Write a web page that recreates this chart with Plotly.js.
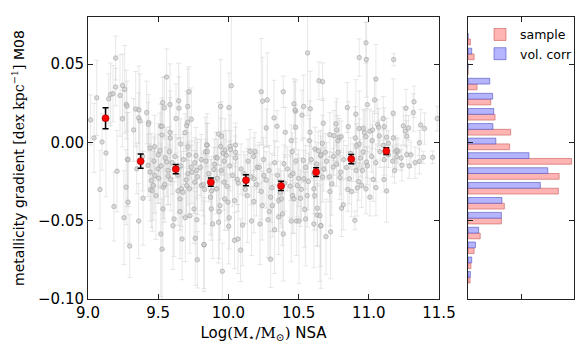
<!DOCTYPE html>
<html>
<head>
<meta charset="utf-8">
<script src="https://cdn.plot.ly/plotly-3.0.1.min.js"></script>
<style>
  body { margin: 0; background: white; }
  #gradPlot { width: 586px; height: 352px; }
</style>
</head>
<body>
<div id="gradPlot"></div>
<script>
// galaxies: [log mass, gradient, error]
var galaxiesLowTop = [
    [9.019, 0.0143, 0.016], [9.043, 0.0028, 0.022], [9.062, 0.0284, 0.024], [9.100, 0.0002, 0.018],
    [9.128, -0.0068, 0.028], [9.147, 0.0278, 0.016], [9.161, 0.0306, 0.020], [9.178, 0.0310, 0.018],
    [9.197, 0.0353, 0.012], [9.197, 0.0538, 0.014], [9.228, 0.0299, 0.026], [9.247, 0.0363, 0.020],
    [9.261, 0.0338, 0.028], [9.245, 0.0150, 0.018], [9.273, 0.0241, 0.022], [9.278, 0.0231, 0.016],
    [9.282, -0.0110, 0.030], [9.325, 0.0079, 0.020], [9.340, 0.0212, 0.024], [9.363, 0.0207, 0.028],
    [9.361, 0.0156, 0.016], [9.370, 0.0137, 0.030], [9.389, -0.0090, 0.022], [9.418, 0.0190, 0.020],
    [9.432, 0.0126, 0.018], [9.430, 0.0115, 0.014], [9.442, -0.0036, 0.016], [9.475, -0.0028, 0.020],
    [9.513, -0.0053, 0.024], [9.518, 0.0103, 0.014], [9.527, 0.0103, 0.018], [9.527, 0.0047, 0.020],
    [9.532, 0.0254, 0.016], [9.544, 0.0220, 0.020], [9.560, 0.0417, 0.018], [9.584, 0.0241, 0.026],
    [9.584, 0.0064, 0.022], [9.586, 0.0028, 0.030], [9.627, 0.0152, 0.022], [9.646, 0.0265, 0.024],
    [9.648, 0.0218, 0.020], [9.660, -0.0010, 0.016], [9.691, 0.0062, 0.012], [9.703, 0.0107, 0.022],
    [9.710, 0.0128, 0.018], [9.710, 0.0229, 0.024], [9.719, 0.0323, 0.016], [9.712, -0.0030, 0.014],
    [9.736, 0.0147, 0.020], [9.769, -0.0085, 0.018], [9.807, -0.0110, 0.016], [9.836, -0.0060, 0.022],
    [9.848, -0.0017, 0.020]
];

var galaxiesLowBottom = [
    [9.085, -0.0301, 0.025], [9.185, -0.0410, 0.022], [9.207, -0.0184, 0.026], [9.256, -0.0481, 0.030],
    [9.271, -0.0286, 0.024], [9.285, -0.0382, 0.026], [9.297, -0.0662, 0.020], [9.285, -0.0109, 0.030],
    [9.347, -0.0169, 0.016], [9.361, -0.0502, 0.024], [9.392, -0.0357, 0.030], [9.427, -0.0147, 0.020],
    [9.442, -0.0190, 0.018], [9.451, -0.0244, 0.030], [9.465, -0.0276, 0.022], [9.444, -0.0303, 0.020],
    [9.458, -0.0308, 0.026], [9.484, -0.0340, 0.028], [9.475, -0.0212, 0.024], [9.499, -0.0169, 0.022],
    [9.503, -0.0229, 0.016], [9.518, -0.0585, 0.040], [9.527, -0.0682, 0.032], [9.534, -0.0425, 0.026],
    [9.537, -0.0286, 0.020], [9.546, -0.0270, 0.024], [9.570, -0.0216, 0.018], [9.589, -0.0237, 0.020],
    [9.560, -0.0126, 0.022], [9.605, -0.0532, 0.028], [9.613, -0.0489, 0.024], [9.641, -0.0310, 0.022],
    [9.655, -0.0442, 0.030], [9.670, -0.0617, 0.026], [9.693, -0.0481, 0.028], [9.703, -0.0276, 0.020],
    [9.726, -0.0468, 0.024], [9.755, -0.0425, 0.022], [9.764, -0.0613, 0.030], [9.779, -0.0750, 0.018],
    [9.776, -0.0494, 0.026], [9.826, -0.0654, 0.028], [9.760, -0.0254, 0.020], [9.807, -0.0276, 0.016],
    [9.831, -0.0301, 0.022], [9.722, -0.0297, 0.018], [9.665, -0.0297, 0.024], [9.655, -0.0361, 0.020],
    [9.677, -0.0318, 0.016], [9.736, -0.0158, 0.014], [9.774, -0.0180, 0.018], [9.712, -0.0200, 0.020]
];

var galaxiesMidTop = [
    [9.845, -0.0017, 0.014], [9.850, -0.0060, 0.018], [9.911, -0.0096, 0.016], [9.930, 0.0053, 0.020],
    [9.945, 0.0229, 0.030], [9.952, 0.0040, 0.022], [9.945, -0.0026, 0.018], [9.964, -0.0070, 0.014],
    [9.976, -0.0049, 0.020], [9.985, -0.0083, 0.016], [10.004, 0.0222, 0.022], [10.021, 0.0361, 0.045],
    [10.011, -0.0026, 0.020], [10.016, -0.0045, 0.012], [10.051, -0.0017, 0.014], [10.051, -0.0064, 0.016],
    [10.154, -0.0058, 0.014], [10.189, -0.0058, 0.012], [10.234, 0.0323, 0.034], [10.244, 0.0263, 0.028],
    [10.277, 0.0271, 0.030], [10.270, 0.0092, 0.012], [10.325, 0.0156, 0.024], [10.346, 0.0103, 0.010],
    [10.391, 0.0323, 0.010], [10.405, 0.0064, 0.016], [10.467, 0.0246, 0.016], [10.479, 0.0199, 0.020],
    [10.474, 0.0207, 0.018], [10.479, 0.0096, 0.014], [10.448, 0.0011, 0.010], [10.455, -0.0060, 0.012],
    [10.524, 0.0173, 0.016], [10.536, 0.0229, 0.020], [10.564, 0.0571, 0.040], [10.583, 0.0214, 0.024],
    [10.581, 0.0064, 0.020], [10.576, 0.0011, 0.014], [10.645, 0.0393, 0.012], [10.671, 0.0387, 0.012],
    [10.676, 0.0122, 0.016], [10.669, -0.0006, 0.018], [10.617, -0.0043, 0.014], [10.640, -0.0053, 0.012],
    [10.657, -0.0085, 0.016]
];

var galaxiesHighTop = [
    [10.690, -0.0064, 0.012], [10.723, 0.0049, 0.014], [10.752, 0.0043, 0.016], [10.766, 0.0118, 0.014],
    [10.771, 0.0079, 0.020], [10.780, 0.0011, 0.016], [10.790, 0.0032, 0.012], [10.804, 0.0036, 0.010],
    [10.780, -0.0064, 0.014], [10.847, 0.0222, 0.016], [10.854, 0.0100, 0.016], [10.908, 0.0180, 0.022],
    [10.904, 0.0028, 0.020], [10.913, -0.0021, 0.014], [10.932, 0.0541, 0.012], [10.932, 0.0088, 0.024],
    [10.932, -0.0010, 0.016], [10.961, 0.0090, 0.012], [10.968, 0.0062, 0.014], [10.980, 0.0635, 0.013],
    [10.982, 0.0528, 0.024], [10.989, 0.0241, 0.030], [10.980, 0.0036, 0.018], [11.008, 0.0071, 0.014],
    [11.027, 0.0079, 0.012], [11.025, 0.0011, 0.010], [11.041, 0.0271, 0.014], [11.051, 0.0404, 0.022],
    [11.063, 0.0113, 0.016], [11.070, 0.0096, 0.012], [11.075, 0.0041, 0.010], [11.103, 0.0152, 0.014],
    [11.110, 0.0100, 0.012], [11.103, -0.0019, 0.010], [11.127, 0.0032, 0.012], [11.139, -0.0006, 0.008],
    [11.174, 0.0186, 0.022], [11.177, 0.0528, 0.004], [11.174, 0.0028, 0.014], [11.189, -0.0058, 0.010],
    [11.208, -0.0058, 0.008], [11.246, 0.0105, 0.012], [11.260, 0.0071, 0.010], [11.265, 0.0218, 0.012],
    [11.284, 0.0092, 0.008], [11.270, 0.0038, 0.010], [11.317, 0.0190, 0.012], [11.322, 0.0259, 0.010],
    [11.369, 0.0111, 0.010], [11.397, 0.0088, 0.010], [11.360, -0.0004, 0.008], [11.388, -0.0096, 0.004],
    [11.488, 0.0152, 0.008], [11.454, -0.0096, 0.004], [11.270, -0.0079, 0.006]
];

var galaxiesMidBottom = [
    [9.826, -0.0652, 0.030], [9.873, -0.0350, 0.024], [9.878, -0.0425, 0.020], [9.888, -0.0521, 0.022],
    [9.930, -0.0510, 0.026], [9.935, -0.0442, 0.030], [9.957, -0.0823, 0.018], [10.002, -0.0536, 0.024],
    [10.006, -0.0481, 0.020], [10.044, -0.0626, 0.018], [10.068, -0.0617, 0.022], [10.087, -0.0688, 0.020],
    [10.101, -0.0528, 0.026], [10.135, -0.0340, 0.030], [10.165, -0.0502, 0.022], [10.182, -0.0378, 0.020],
    [10.225, -0.0521, 0.026], [10.241, -0.0404, 0.022], [10.282, -0.0494, 0.024], [10.291, -0.0442, 0.030],
    [10.301, -0.0746, 0.018], [10.329, -0.0558, 0.028], [10.358, -0.0476, 0.024], [10.391, -0.0585, 0.030],
    [10.386, -0.0457, 0.020], [10.448, -0.0502, 0.026], [10.486, -0.0502, 0.022], [10.503, -0.0502, 0.040],
    [10.543, -0.0429, 0.024], [10.550, -0.0489, 0.030], [10.609, -0.0521, 0.028], [10.633, -0.0464, 0.020],
    [10.657, -0.0532, 0.026], [10.633, -0.0421, 0.024], [10.358, -0.0370, 0.020], [10.377, -0.0361, 0.018],
    [10.301, -0.0350, 0.022], [10.313, -0.0404, 0.020], [10.458, -0.0340, 0.024], [10.514, -0.0357, 0.018],
    [10.562, -0.0340, 0.020], [10.609, -0.0297, 0.016], [10.614, -0.0340, 0.022], [10.234, -0.0314, 0.018],
    [10.182, -0.0233, 0.016], [9.973, -0.0361, 0.020], [9.997, -0.0382, 0.018], [10.044, -0.0372, 0.024],
    [9.916, -0.0297, 0.016], [9.940, -0.0404, 0.022], [9.897, -0.0173, 0.014], [9.968, -0.0254, 0.018],
    [10.063, -0.0237, 0.016], [10.111, -0.0200, 0.014], [10.253, -0.0212, 0.018], [10.443, -0.0212, 0.016],
    [10.491, -0.0276, 0.020], [10.538, -0.0233, 0.018], [10.467, -0.0361, 0.022], [9.921, -0.0100, 0.012],
    [10.206, -0.0158, 0.014], [10.396, -0.0137, 0.012], [10.534, -0.0115, 0.014]
];

var galaxiesHighBottom = [
    [10.659, -0.0532, 0.040], [10.695, -0.0602, 0.024], [10.728, -0.0571, 0.030], [10.723, -0.0314, 0.022],
    [10.737, -0.0265, 0.020], [10.806, -0.0421, 0.018], [10.818, -0.0399, 0.016], [10.851, -0.0301, 0.014],
    [10.878, -0.0314, 0.016], [10.901, -0.0498, 0.006], [10.918, -0.0291, 0.018], [10.949, -0.0276, 0.014],
    [10.980, -0.0297, 0.016], [11.008, -0.0350, 0.012], [11.051, -0.0289, 0.018], [11.032, -0.0237, 0.014],
    [11.108, -0.0237, 0.008], [11.127, -0.0310, 0.020], [10.861, -0.0233, 0.016], [10.794, -0.0224, 0.014],
    [10.928, -0.0250, 0.012], [10.956, -0.0180, 0.010], [11.184, -0.0180, 0.008], [11.236, -0.0147, 0.010],
    [11.288, -0.0151, 0.008], [11.360, -0.0122, 0.008], [11.198, -0.0092, 0.008], [10.984, -0.0126, 0.010],
    [10.747, -0.0158, 0.012], [10.671, -0.0222, 0.016], [10.652, -0.0468, 0.042]
];

// the crowded strip just under zero
var galaxiesBand = [
    [9.47, -0.012, 0.016], [9.50, -0.008, 0.020], [9.52, -0.015, 0.014], [9.55, -0.010, 0.018],
    [9.57, -0.018, 0.022], [9.58, -0.006, 0.016], [9.60, -0.013, 0.020], [9.62, -0.009, 0.014],
    [9.64, -0.021, 0.024], [9.66, -0.015, 0.018], [9.68, -0.011, 0.016], [9.70, -0.024, 0.022],
    [9.72, -0.008, 0.014], [9.74, -0.019, 0.020], [9.76, -0.013, 0.016], [9.78, -0.022, 0.024],
    [9.80, -0.016, 0.018], [9.82, -0.027, 0.020], [9.84, -0.012, 0.014], [9.86, -0.020, 0.018],
    [9.88, -0.031, 0.022], [9.90, -0.014, 0.016], [9.92, -0.023, 0.020], [9.95, -0.018, 0.018],
    [9.97, -0.012, 0.014], [9.99, -0.028, 0.022], [10.01, -0.015, 0.016], [10.03, -0.021, 0.020],
    [10.05, -0.010, 0.014], [10.07, -0.026, 0.018], [10.09, -0.017, 0.016], [10.12, -0.030, 0.022],
    [10.14, -0.012, 0.014], [10.16, -0.022, 0.018], [10.18, -0.009, 0.012], [10.20, -0.027, 0.020],
    [10.22, -0.016, 0.016], [10.25, -0.011, 0.014], [10.27, -0.024, 0.018], [10.29, -0.018, 0.016],
    [10.31, -0.029, 0.022], [10.33, -0.013, 0.014], [10.35, -0.021, 0.018], [10.37, -0.032, 0.020],
    [10.40, -0.026, 0.018], [10.42, -0.017, 0.014], [10.44, -0.028, 0.020], [10.46, -0.020, 0.016],
    [10.48, -0.012, 0.014], [10.50, -0.023, 0.018], [10.52, -0.030, 0.020], [10.55, -0.016, 0.014],
    [10.57, -0.025, 0.018], [10.59, -0.011, 0.012], [10.61, -0.020, 0.016], [10.63, -0.014, 0.014],
    [10.66, -0.008, 0.012], [10.68, -0.017, 0.014], [10.70, -0.012, 0.012], [10.72, -0.022, 0.016],
    [10.75, -0.009, 0.012], [10.77, -0.014, 0.014], [10.80, -0.019, 0.014], [10.82, -0.011, 0.012],
    [10.84, -0.016, 0.014], [10.87, -0.007, 0.010], [10.89, -0.013, 0.012], [10.91, -0.018, 0.014],
    [10.94, -0.010, 0.012], [10.96, -0.006, 0.010], [10.99, -0.015, 0.012], [11.02, -0.009, 0.010],
    [11.05, -0.013, 0.012], [11.08, -0.006, 0.010], [11.11, -0.011, 0.010], [11.14, -0.008, 0.008],
    [11.17, -0.012, 0.010], [11.20, -0.005, 0.008], [11.23, -0.010, 0.008], [11.30, -0.008, 0.008],
    [11.33, -0.013, 0.010]
];

// binned medians
var medMass = [9.125, 9.375, 9.625, 9.875, 10.125, 10.375, 10.625, 10.875, 11.125];
var medGrad = [0.0154, -0.0120, -0.0171, -0.0254, -0.0242, -0.0278, -0.0190, -0.0107, -0.0056];
var medErr = [0.0067, 0.0045, 0.0030, 0.0026, 0.0035, 0.0030, 0.0028, 0.0030, 0.0022];

// side histogram
var binCenters = [-0.0861, -0.0769, -0.0673, -0.0579, -0.0484, -0.0389, -0.0293, -0.0199, -0.0103,
    -0.0010, 0.0083, 0.0179, 0.0276, 0.0372, 0.0468, 0.0564, 0.0659];
var sampleCounts = [0.8, 1.1, 2.3, 4.6, 12.6, 13.7, 34.1, 34.4, 39.1, 15.7, 16.1, 10.2, 8.6, 3.4, 0, 2.3, 0.9];
var volCorrCounts = [0.9, 1.4, 2.8, 4.0, 12.6, 12.8, 27.3, 30.1, 23.0, 10.5, 9.4, 9.7, 9.3, 8.2, 0, 1.4, 0];

var galaxies = [].concat(galaxiesLowTop, galaxiesLowBottom, galaxiesMidTop, galaxiesHighTop,
    galaxiesMidBottom, galaxiesHighBottom, galaxiesBand);

var grayTrace = {
    x: galaxies.map(g => g[0]),
    y: galaxies.map(g => g[1]),
    error_y: {
        type: "data",
        array: galaxies.map(g => g[2]),
        color: "rgba(205,205,205,0.45)",
        thickness: 1,
        width: 2.5,
    },
    mode: "markers",
    marker: {
        size: 4.5,
        color: "rgba(205,205,205,0.7)",
        line: { color: "rgba(150,150,150,0.65)", width: 0.8 },
    },
    showlegend: false,
    hoverinfo: "skip",
};

var medTrace = {
    x: medMass,
    y: medGrad,
    error_y: {
        type: "data",
        array: medErr,
        color: "black",
        thickness: 1.5,
        width: 3,
    },
    mode: "markers",
    marker: {
        size: 7,
        color: "red",
        line: { color: "rgb(140,0,0)", width: 0.6 },
    },
    showlegend: false,
};

var sampleTrace = {
    type: "bar",
    orientation: "h",
    x: sampleCounts,
    y: binCenters,
    xaxis: "x2",
    yaxis: "y2",
    name: "sample",
    marker: {
        color: "rgb(255,180,180)",
        line: { color: "rgba(200,90,90,0.6)", width: 1 },
    },
};

var volTrace = {
    type: "bar",
    orientation: "h",
    x: volCorrCounts,
    y: binCenters,
    xaxis: "x2",
    yaxis: "y2",
    name: "vol. corr",
    marker: {
        color: "rgb(180,180,255)",
        line: { color: "rgba(80,80,190,0.6)", width: 1 },
    },
};

var frame = {
    showline: true,
    linecolor: "#222",
    linewidth: 1,
    mirror: "ticks",
    ticks: "inside",
    ticklen: 5,
    tickcolor: "#222",
    showgrid: false,
    zeroline: false,
};

var layout = {
    width: 586,
    height: 352,
    margin: { l: 88, r: 12, t: 17, b: 53, pad: 0, autoexpand: false },
    paper_bgcolor: "white",
    plot_bgcolor: "white",
    font: { family: "DejaVu Sans", size: 15, color: "black" },
    barmode: "group",
    bargap: 0.2,
    bargroupgap: 0,
    xaxis: Object.assign({}, frame, {
        domain: [0, 0.7222],
        range: [9, 11.5],
        dtick: 0.5,
        tick0: 9,
        tickformat: ".1f",
        anchor: "y",
        title: {
            text: "Log<span style='font-family:DejaVu Serif'>(M<sub>\u22c6</sub>/M<sub>\u2299</sub>)</span> NSA",
            font: { size: 15 },
            standoff: 6,
        },
    }),
    yaxis: Object.assign({}, frame, {
        range: [-0.1, 0.08],
        dtick: 0.05,
        tick0: 0,
        tickformat: ".2f",
        anchor: "x",
        title: {
            text: "metallicity gradient <span style='font-family:DejaVu Serif'>[dex kpc<sup>\u22121</sup>]</span> M08",
            font: { size: 14 },
            standoff: 10,
        },
    }),
    xaxis2: Object.assign({}, frame, {
        domain: [0.7819, 1],
        range: [0, 40],
        dtick: 20,
        showticklabels: false,
        anchor: "y2",
    }),
    yaxis2: Object.assign({}, frame, {
        range: [-0.1, 0.08],
        dtick: 0.05,
        tick0: 0,
        showticklabels: false,
        anchor: "x2",
    }),
    legend: {
        x: 0.8066,
        y: 0.99,
        xanchor: "left",
        yanchor: "top",
        bgcolor: "rgba(0,0,0,0)",
        font: { size: 12.5 },
    },
};

Plotly.newPlot("gradPlot", [grayTrace, medTrace, sampleTrace, volTrace], layout, { displayModeBar: false });
</script>
</body>
</html>
